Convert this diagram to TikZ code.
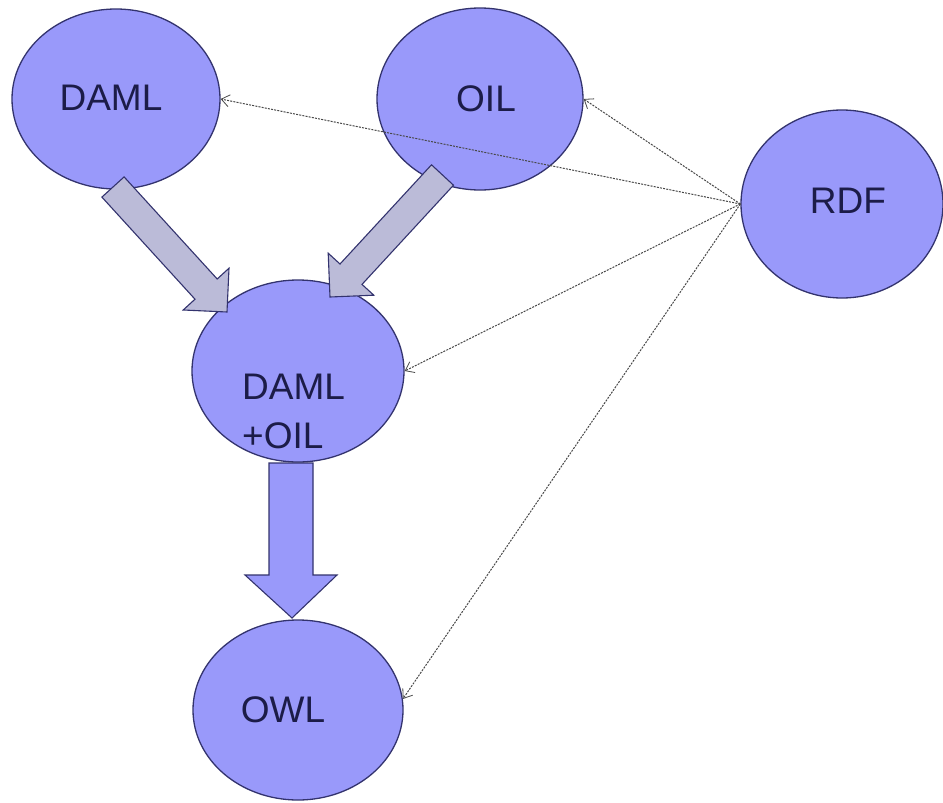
\documentclass[tikz,border=0pt]{standalone}
\usepackage{fontspec}
\setmainfont{Liberation Sans}
\usetikzlibrary{shapes.geometric,arrows.meta}
\definecolor{bubble}{HTML}{9999FA}
\definecolor{rim}{HTML}{33336E}
\definecolor{ink}{HTML}{1C1C48}
\definecolor{flowgray}{HTML}{BBBBD8}
\definecolor{refline}{HTML}{484848}
\tikzset{
  bubble/.style={ellipse, draw=rim, line width=1.3pt, fill=bubble, inner sep=0pt},
  tag/.style={text=ink, font=\fontsize{37}{44}\selectfont, inner sep=0pt},
  flow/.style={draw=rim, line width=1.1pt, line join=miter},
  reflink/.style={draw=refline, line width=1pt, dash pattern=on 2pt off 1.2pt,
    -{Straight Barb[length=8pt,width=12pt,line width=0.8pt]}}
}
\begin{document}
\begin{tikzpicture}[x=1pt,y=-1pt]
\useasboundingbox (0,0) rectangle (943,803);
\fill[white] (0,0) rectangle (943,803);

% ellipses
\node[bubble, minimum width=208, minimum height=180] (daml) at (116,99) {};
\node[bubble, minimum width=206, minimum height=182] (oil) at (480,99) {};
\node[bubble, minimum width=202, minimum height=188] (rdf) at (842,204) {};
\node[bubble, minimum width=212, minimum height=182] (damloil) at (298,371) {};
\node[bubble, minimum width=210, minimum height=180] (owl) at (298,710) {};

% labels
\node[tag] (tdaml) at (111,98) {DAML};
\node[tag] (toil) at (486,99) {OIL};
\node[tag] (trdf) at (848,201) {RDF};
\node[tag, anchor=west] (tdamloil) at (242,387) {DAML};
\node[tag, anchor=west] (tplusoil) at (242,436) {+OIL};
\node[tag] (towl) at (283,710) {OWL};

% block arrows
\path[flow, fill=flowgray]
  (124.1,176.9) -- (217.2,279.0) -- (229.0,268.2) -- (227,312)
  -- (183.2,310.0) -- (195.0,299.2) -- (101.9,197.1) -- cycle;
\path[flow, fill=flowgray]
  (431.5,164.8) -- (340.0,264.0) -- (328.2,253.2) -- (330,297)
  -- (373.8,295.2) -- (362.0,284.4) -- (453.5,185.2) -- cycle;
\path[flow, fill=bubble]
  (269,463) -- (313,463) -- (313,575) -- (337,575) -- (292,618)
  -- (245,575) -- (269,575) -- cycle;

% references from RDF
\coordinate (src) at (rdf.west);
\draw[reflink] (src) -- (daml.east);
\draw[reflink] (src) -- (oil.east);
\draw[reflink] (src) -- (damloil.east);
\draw[reflink] (src) -- (owl.6);
\end{tikzpicture}
\end{document}
